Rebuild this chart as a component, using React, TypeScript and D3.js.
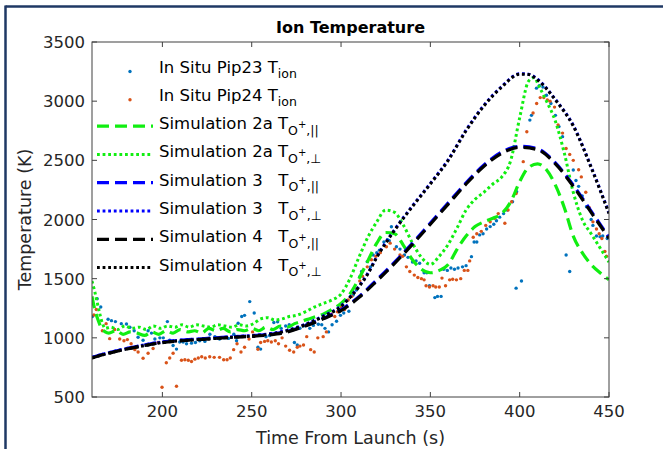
import React from 'react';
import * as d3 from 'd3';

const xTicks = [200, 250, 300, 350, 400, 450];
const yTicks = [500, 1000, 1500, 2000, 2500, 3000, 3500];

const pip23: [number, number][] = [
  [160.8,1180],[163.5,1330],[165.5,1260],[169.6,1157],[171.5,1145],[173.7,1137],[177,1120],[179.9,1117],[181.8,1090],[184.2,1060],[186.4,1005],[189.2,980],[192,1060],[193.9,1040],[195.8,990],[198.6,1000],[200.5,1000],[202.8,1137],[204.1,980],[206,935],[207.9,905],[209.7,965],[211.6,965],[213.5,950],[216.3,955],[218.5,960],[220.9,975],[223.8,970],[226.6,1030],[229.4,1010],[232,990],[234.5,1000],[237,995],[240,1030],[241.5,975],[242.4,1123],[244.4,1180],[246,1190],[248.9,1306],[251.4,1210],[253.5,920],[255,905],[258,1010],[260,1020],[262.4,1130],[264.5,1135],[266.5,1080],[269,1100],[271,1110],[273.9,960],[275.5,940],[277,1081],[279,1100],[280.8,1110],[282.5,1080],[284.5,1105],[287.3,1115],[289.2,1110],[291,1080],[293,1050],[295,1110],[297.5,1140],[299.7,1190],[301.5,1210],[304.4,1225],[306.8,1362],[308.6,1404],[310.5,1517],[311.5,1560],[314.7,1644],[316.5,1600],[318,1700],[320,1720],[321.5,1740],[324,1810],[326,1830],[327,1820],[328.2,1939],[331,1770],[333,1750],[335.5,1700],[337.5,1680],[340,1640],[342,1650],[344,1630],[346.5,1550],[348,1550],[349.5,1440],[352.5,1340],[354,1350],[356,1350],[357.5,1580],[359.5,1570],[361.5,1590],[363.5,1580],[365.5,1590],[368,1600],[370,1610],[373,1686],[374.5,1810],[376,1810],[377.6,1870],[379.5,1880],[381.5,1920],[383.5,1940],[385.5,1960],[387,1990],[388.8,2020],[391,2050],[393,2080],[396,2150],[398.3,2235],[398,1420],[401,1480],[405.7,2840],[406.6,2880],[409.4,3110],[411,3130],[413,3120],[415,3050],[417.5,2980],[420,2880],[422,2785],[424,2700],[426,1700],[428,1560],[430,2418],[431.5,2330],[433,2280],[435,2200],[437.4,2108],[440,2000],[441,1950],[443,1860],[445,1855],[446.5,1860],[449,1840]
];

const pip24: [number, number][] = [
  [161.7,1193],[163,1240],[166.4,1060],[168.5,1120],[170.5,993],[173.3,1070],[176.1,990],[178.5,975],[180.4,985],[182.5,950],[184.6,900],[186.4,880],[189.2,827],[192,870],[194.8,910],[197.6,960],[199.8,582],[202.2,790],[204.1,830],[206,870],[207.9,591],[210.7,810],[212.6,815],[214.5,810],[216.3,800],[218.2,820],[220.1,830],[222,840],[224,830],[226.5,840],[229,835],[232,835],[234.3,815],[236.2,815],[238,830],[239.9,900],[241.8,950],[244,880],[246,920],[248.5,990],[250.5,1050],[252,1020],[253.5,903],[255,960],[257.2,970],[259,975],[261,965],[263.2,975],[265,950],[267,1000],[269,930],[271.2,895],[273.5,880],[275.5,920],[277,930],[279,940],[280.8,1010],[283,900],[285,880],[287,1000],[290,1010],[291.8,1050],[294.6,1200],[296.5,1180],[298,1220],[300.2,1260],[302,1240],[304,1320],[306,1350],[309,1420],[310.5,1480],[312,1520],[314.7,1600],[317,1660],[319.5,1690],[322,1720],[325.4,1770],[327.5,1800],[330,1750],[333,1700],[334.5,1690],[336.6,1600],[338.5,1560],[341,1530],[343,1510],[345,1500],[346.5,1490],[347.6,1440],[349.5,1430],[351.5,1440],[353,1430],[355,1430],[356.5,1505],[358.5,1440],[360.8,1490],[362.5,1495],[364.6,1490],[367,1500],[369,1570],[371,1570],[372,1650],[374,1850],[376,1880],[378.5,1900],[381,1950],[383.5,1980],[386,2010],[388,2050],[391.7,1968],[393.5,2080],[395.5,2150],[398,2220],[402,2489],[404,2742],[407.5,2900],[409.5,2980],[411.5,3030],[413.5,3030],[415.5,3010],[417,3000],[419.5,2950],[421.5,2800],[424,2730],[426,2600],[428,2550],[430,2500],[433,2420],[434.5,2360],[437,2230],[439,2100],[441,1980],[443,1920],[444.5,1880],[446,1840],[447.7,1730],[448.6,1690]
];

const sim2aPar: [number, number][] = [
  [160.6,1350],[162,1250],[164,1150],[166,1080],[168,1050],[170,1040],[174,1060],[178,1030],[182,1050],[186,1040],[190,1020],[194,1050],[198,1030],[202,1060],[206,1040],[210,1070],[214,1050],[218,1060],[222,1040],[226,1080],[230,1060],[234,1080],[238,1050],[242,1070],[246,1060],[250,1080],[254,1060],[258,1090],[262,1070],[266,1100],[270,1090],[274,1120],[278,1140],[282,1160],[286,1180],[290,1200],[295,1240],[300,1290],[305,1370],[310,1500],[315,1650],[320,1800],[325,1890],[330,1880],[335,1780],[340,1660],[345,1580],[350,1550],[355,1570],[360,1620],[365,1750],[370,1860],[375,1940],[380,1980],[385,2010],[390,2050],[395,2150],[400,2320],[405,2440],[410,2470],[415,2420],[420,2290],[425,2100],[430,1860],[435,1720],[440,1620],[445,1550],[450,1490]
];

const sim2aPerp: [number, number][] = [
  [160.6,1480],[162,1400],[163.5,1300],[165,1200],[166.5,1120],[168,1080],[171,1090],[175,1070],[179,1100],[183,1080],[187,1090],[191,1070],[195,1100],[199,1080],[203,1100],[207,1090],[211,1110],[215,1090],[219,1110],[223,1100],[227,1090],[231,1110],[235,1100],[239,1090],[243,1110],[247,1100],[251,1120],[255,1160],[259,1170],[263,1150],[267,1160],[271,1180],[275,1190],[280,1220],[285,1260],[290,1290],[295,1320],[300,1370],[305,1500],[310,1680],[315,1850],[320,1980],[325,2080],[330,2060],[335,1950],[340,1800],[345,1680],[350,1620],[355,1690],[360,1790],[365,1930],[370,2080],[375,2170],[380,2230],[385,2300],[390,2360],[395,2500],[400,2860],[405,3170],[408,3200],[411,3120],[415,3000],[420,2830],[425,2560],[430,2230],[435,2000],[440,1880],[445,1760],[450,1640]
];

const sim3Par: [number, number][] = [
  [160.6,835],[165,855],[170,875],[180,910],[190,940],[200,965],[210,980],[220,990],[230,1000],[240,1010],[250,1017],[260,1030],[270,1055],[280,1105],[290,1165],[300,1238],[310,1348],[320,1490],[330,1640],[340,1800],[350,1970],[360,2140],[370,2310],[380,2460],[390,2570],[400,2618],[410,2598],[420,2478],[430,2290],[440,2070],[450,1850]
];

const sim3Perp: [number, number][] = [
  [160.6,835],[170,875],[180,910],[190,940],[200,965],[210,980],[220,990],[230,1000],[240,1010],[250,1020],[260,1035],[270,1065],[280,1115],[290,1185],[300,1270],[305,1345],[310,1435],[315,1545],[320,1685],[325,1805],[330,1915],[340,2115],[350,2305],[360,2505],[370,2755],[380,2965],[390,3125],[400,3232],[405,3228],[410,3185],[420,3015],[430,2795],[440,2445],[450,2055]
];

const sim4Par: [number, number][] = [
  [160.6,830],[165,850],[170,870],[180,905],[190,935],[200,960],[210,975],[220,985],[230,995],[240,1005],[250,1012],[260,1025],[270,1050],[280,1100],[290,1160],[300,1230],[310,1340],[320,1480],[330,1630],[340,1790],[350,1960],[360,2130],[370,2300],[380,2450],[390,2560],[400,2610],[410,2590],[420,2470],[430,2280],[440,2060],[450,1840]
];

const sim4Perp: [number, number][] = [
  [160.6,830],[170,870],[180,905],[190,935],[200,960],[210,975],[220,985],[230,995],[240,1005],[250,1015],[260,1030],[270,1060],[280,1110],[290,1180],[300,1265],[305,1340],[310,1430],[315,1540],[320,1680],[325,1800],[330,1910],[340,2110],[350,2300],[360,2500],[370,2750],[380,2960],[390,3120],[400,3228],[405,3225],[410,3180],[420,3010],[430,2790],[440,2440],[450,2050]
];

const legendLabels = [
  'In Situ Pip23 T', 'In Situ Pip24 T',
  'Simulation 2a T', 'Simulation 2a T',
  'Simulation 3   T', 'Simulation 3   T',
  'Simulation 4   T', 'Simulation 4   T',
];

const W = 663, H = 449;
const M = { left: 92, right: 609, top: 42, bottom: 397 };
const BLUE_DOT = '#0072bd';
const ORANGE_DOT = '#d95319';
const GREEN = '#11ee11';
const BLUE = '#0000ff';
const BLACK = '#000000';
const AX = '#404040';
const FONT = 'DejaVu Sans, sans-serif';

export default function App() {
  const x = d3.scaleLinear().domain([160.6, 450]).range([M.left, M.right]);
  const y = d3.scaleLinear().domain([500, 3500]).range([M.bottom, M.top]);
  const line = d3.line<[number, number]>().x(d => x(d[0])).y(d => y(d[1])).curve(d3.curveMonotoneX);

  const DASH = '12 6';
  const DOT = '2.8 2.8';
  const series = [
    { data: sim2aPar, color: GREEN, dash: DASH, w: 3.2 },
    { data: sim2aPerp, color: GREEN, dash: DOT, w: 3 },
    { data: sim3Par, color: BLUE, dash: DASH, w: 3.2 },
    { data: sim3Perp, color: BLUE, dash: DOT, w: 3 },
    { data: sim4Par, color: BLACK, dash: DASH, w: 3.2 },
    { data: sim4Perp, color: BLACK, dash: DOT, w: 3 },
  ];

  const legendY0 = 69.5, legendDy = 28.3;
  const tickLen = 5;

  return (
    <svg width={W} height={H} style={{ position: 'fixed', left: 0, top: 0, background: '#fff' }} fontFamily={FONT}>
      <rect x={0} y={0} width={W} height={H} fill="#fff" />
      <line x1={5.5} y1={6.5} x2={W} y2={6.5} stroke="#1f3864" strokeWidth={2.5} />
      <line x1={5.5} y1={5.5} x2={5.5} y2={H} stroke="#1f3864" strokeWidth={2.5} />

      <defs>
        <clipPath id="plotClip">
          <rect x={M.left} y={M.top} width={M.right - M.left} height={M.bottom - M.top} />
        </clipPath>
      </defs>

      <g clipPath="url(#plotClip)">
        {pip23.map((d, i) => (
          <circle key={'a' + i} cx={x(d[0])} cy={y(d[1])} r={1.7} fill={BLUE_DOT} />
        ))}
        {pip24.map((d, i) => (
          <circle key={'b' + i} cx={x(d[0])} cy={y(d[1])} r={1.7} fill={ORANGE_DOT} />
        ))}
        {series.map((s, i) => (
          <path key={'s' + i} d={line(s.data) || ''} fill="none" stroke={s.color}
            strokeWidth={s.w} strokeDasharray={s.dash} />
        ))}
      </g>

      <rect x={M.left} y={M.top} width={M.right - M.left} height={M.bottom - M.top} fill="none" stroke={AX} strokeWidth={1} />
      {xTicks.map(t => (
        <g key={'xt' + t}>
          <line x1={x(t)} x2={x(t)} y1={M.bottom} y2={M.bottom - tickLen} stroke={AX} />
          <line x1={x(t)} x2={x(t)} y1={M.top} y2={M.top + tickLen} stroke={AX} />
          <text x={x(t)} y={M.bottom + 20} textAnchor="middle" fontSize={16.5} fill="#262626">{t}</text>
        </g>
      ))}
      {yTicks.map(t => (
        <g key={'yt' + t}>
          <line x1={M.left} x2={M.left + tickLen} y1={y(t)} y2={y(t)} stroke={AX} />
          <line x1={M.right} x2={M.right - tickLen} y1={y(t)} y2={y(t)} stroke={AX} />
          <text x={M.left - 7} y={y(t) + 6} textAnchor="end" fontSize={16.5} fill="#262626">{t}</text>
        </g>
      ))}

      <text x={(M.left + M.right) / 2} y={444} textAnchor="middle" fontSize={17.5} fill="#262626">Time From Launch (s)</text>
      <text transform={`translate(31, ${(M.top + M.bottom) / 2}) rotate(-90)`} textAnchor="middle" fontSize={17.5} fill="#262626">Temperature (K)</text>
      <text x={(M.left + M.right) / 2} y={33} textAnchor="middle" fontSize={16} fontWeight="bold" fill="#000">Ion Temperature</text>

      {legendLabels.map((lab, i) => {
        const ly = legendY0 + i * legendDy;
        const base = ly + 3;
        let sample: React.ReactNode;
        if (i === 0 || i === 1) {
          sample = <circle cx={130} cy={ly + 2} r={1.7} fill={i === 0 ? BLUE_DOT : ORANGE_DOT} />;
        } else {
          const s = series[i - 2];
          sample = <line x1={97} x2={153} y1={ly} y2={ly} stroke={s.color} strokeWidth={s.w} strokeDasharray={s.dash} />;
        }
        return (
          <g key={'lg' + i}>
            {sample}
            <text x={159} y={base} fontSize={16.5} fill="#000" style={{ whiteSpace: 'pre' }}>
              <tspan>{lab}</tspan>
              {i < 2 ? (
                <tspan fontSize={12.5} dy={5.5}>ion</tspan>
              ) : (
                <>
                  <tspan fontSize={12.5} dy={5.5}>O</tspan>
                  <tspan fontSize={10} dy={-7}>+</tspan>
                  <tspan fontSize={12.5} dy={7}>{i % 2 === 0 ? ',||' : ',⊥'}</tspan>
                </>
              )}
            </text>
          </g>
        );
      })}
    </svg>
  );
}
